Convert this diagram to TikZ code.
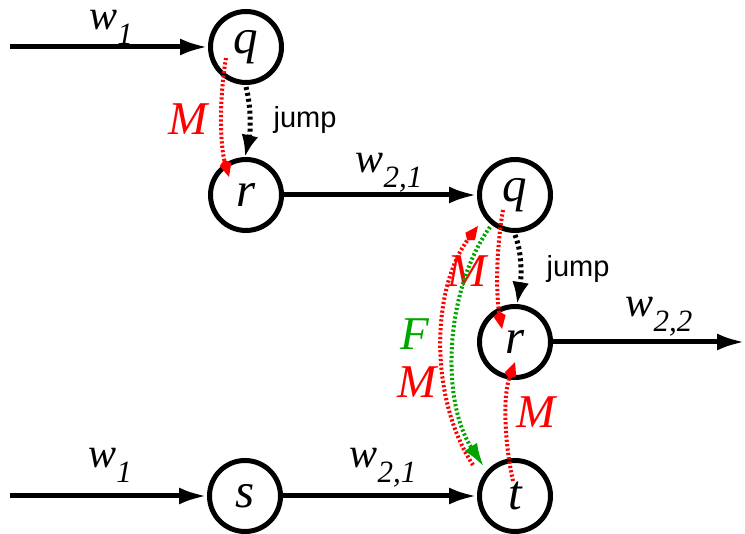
\documentclass[tikz,border=0pt]{standalone}
\usepackage{fontspec}
\setmainfont{Liberation Serif}
\newfontfamily\jumpfont{Liberation Sans}
\usetikzlibrary{arrows.meta}
\newcommand{\lbl}[2]{\textit{#1}\raisebox{-15pt}{\fontsize{31}{31}\selectfont\textit{#2}}}
\begin{document}
\begin{tikzpicture}[x=1pt,y=-1pt,
  st/.style={circle,draw,line width=5pt,minimum size=71pt,inner sep=0pt,font=\fontsize{49}{49}\selectfont\itshape},
  edge/.style={line width=5pt,-{Latex[length=28pt,width=17pt]}},
  wl/.style={anchor=base,inner sep=0pt,font=\fontsize{42}{42}\selectfont},
  jumpar/.style={line width=5pt,dash pattern=on 3pt off 3pt,-{Latex[length=22pt,width=17pt]}},
  redar/.style={red,line width=4pt,dash pattern=on 2.2pt off 2.2pt,-{Kite[length=18pt,width=12pt,inset=5pt]}},
  greenar/.style={green!65!black,line width=4pt,dash pattern=on 2.2pt off 2.2pt,-{Latex[length=24pt,width=15pt]}},
  jl/.style={anchor=base,inner sep=0pt,font=\jumpfont\fontsize{29}{29}\selectfont},
  ml/.style={anchor=base,inner sep=0pt,red,font=\fontsize{47}{47}\selectfont\itshape},
]
\useasboundingbox (0,0) rectangle (745,534);
\node[st] (q1) at (246,47) {q};
\node[st] (r1) at (246,195) {r};
\node[st] (q2) at (515,195) {q};
\node[st] (r2) at (515,342) {r};
\node[st] (s)  at (245,496) {s};
\node[st] (t)  at (515,496) {t};
\coordinate (in1) at (10,47);
\coordinate (in2) at (10,496);
\coordinate (out) at (745,342);
\draw[edge] (in1) -- (q1);
\draw[edge] (r1) -- (q2);
\draw[edge] (r2) -- (out);
\draw[edge] (in2) -- (s);
\draw[edge] (s) -- (t);
\node[wl] (lw1) at (111,30) {\lbl{w}{1}};
\node[wl] (lw21) at (389,173) {\lbl{w}{2,1}};
\node[wl] (lw22) at (659,317) {\lbl{w}{2,2}};
\node[wl] (lw1b) at (110,468) {\lbl{w}{1}};
\node[wl] (lw21b) at (383,468) {\lbl{w}{2,1}};
% jumps
\coordinate (j1a) at (246,87);
\coordinate (j1b) at (245,157);
\draw[jumpar] (j1a) .. controls (252,110) and (250,135) .. (j1b);
\node[jl] (jump1) at (305,128) {jump};
\coordinate (j2a) at (515,235);
\coordinate (j2b) at (517,304);
\draw[jumpar] (j2a) .. controls (523,255) and (521,280) .. (j2b);
\node[jl] (jump2) at (578,277) {jump};
% red M arrows
\coordinate (m1a) at (226,58);
\coordinate (m1b) at (229,177);
\draw[redar] (m1a) .. controls (219,100) and (220,145) .. (m1b);
\node[ml] (lm1) at (188,135) {M};
\coordinate (m2a) at (503,210);
\coordinate (m2b) at (502,329);
\draw[redar] (m2a) .. controls (496,250) and (496,295) .. (m2b);
\node[ml] (lm2) at (467,287) {M};
\coordinate (m3a) at (473,465);
\coordinate (m3b) at (478,226);
\draw[redar] (m3a) .. controls (430,400) and (430,290) .. (m3b);
\node[ml] (lm3) at (417,398) {M};
\coordinate (m4a) at (513,481);
\coordinate (m4b) at (515,362);
\draw[redar] (m4a) .. controls (504,440) and (503,395) .. (m4b);
\node[ml] (lm4) at (536,428) {M};
% green F
\coordinate (fa) at (490,227);
\coordinate (fb) at (484,467);
\draw[greenar] (fa) .. controls (445,290) and (440,400) .. (fb);
\node[ml,green!65!black] (lf) at (415,350) {F};
\end{tikzpicture}
\end{document}
